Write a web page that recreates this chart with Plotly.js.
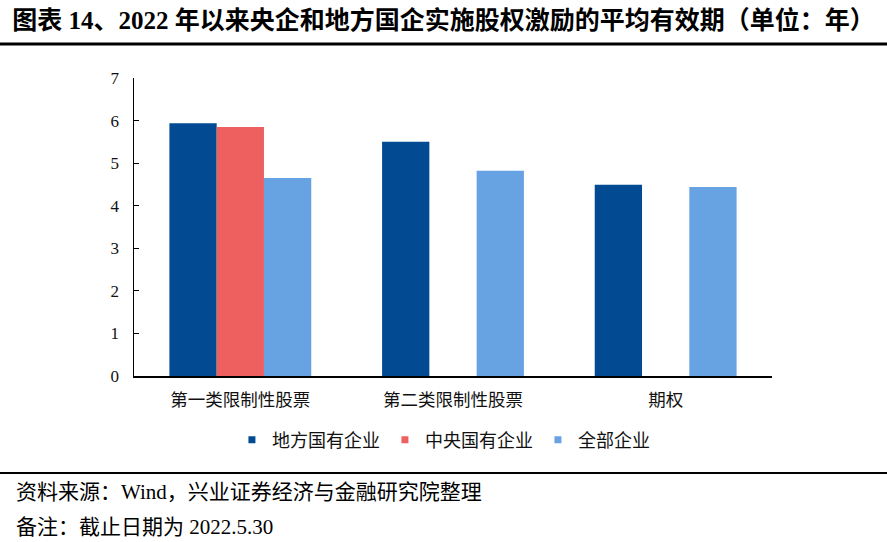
<!DOCTYPE html>
<html>
<head>
<meta charset="utf-8">
<script src="https://cdn.plot.ly/plotly-3.0.1.min.js"></script>
<style>html,body{margin:0;padding:0;background:#fff;}#chart{width:887px;height:542px;}</style>
</head>
<body>
<div id="chart"></div>
<script>
var categories = ['第一类限制性股票', '第二类限制性股票', '期权'];
var seriesNames = ['地方国有企业', '中央国有企业', '全部企业'];
var localSOE = [5.94, 5.50, 4.49];
var centralSOE = [5.85, null, null];
var allFirms = [4.65, 4.82, 4.44];
var yTicks = [0, 1, 2, 3, 4, 5, 6, 7];
var colors = ['#024b93', '#ee6060', '#67a3e3'];

var FONT = 'Liberation Serif, Noto Sans CJK SC, serif';
var values = [localSOE, centralSOE, allFirms];
var traces = [];
values.forEach(function (v, i) {
  traces.push({
    type: 'bar', x: categories, y: v, name: seriesNames[i],
    marker: {color: colors[i], line: {width: 0}}, showlegend: false,
    hoverinfo: 'y'
  });
});
seriesNames.forEach(function (n, i) {
  traces.push({
    type: 'scatter', mode: 'markers', x: [null], y: [null], name: n,
    marker: {symbol: 'square', size: 7, color: colors[i]}, showlegend: true
  });
});

var layout = {
  width: 887, height: 542,
  margin: {l: 134, r: 115, t: 78, b: 166},
  paper_bgcolor: '#fff', plot_bgcolor: '#fff',
  font: {family: FONT, color: '#000', size: 16},
  title: {
    text: '<b>图表 14、2022 年以来央企和地方国企实施股权激励的平均有效期（单位：年）</b>',
    xref: 'container', yref: 'container', x: 0.5, xanchor: 'center',
    y: 1 - 20 / 542, yanchor: 'middle',
    font: {family: FONT, size: 25, color: '#000'}
  },
  barmode: 'group', bargap: 0.333, bargroupgap: 0,
  xaxis: {
    showline: true, linecolor: '#000', linewidth: 2, ticks: '',
    showgrid: false, zeroline: false, ticklabelstandoff: 7,
    tickfont: {family: 'Noto Sans CJK SC, sans-serif', size: 17.5, color: '#111'}
  },
  yaxis: {
    range: [0, 7], tickvals: yTicks, ticks: 'inside', ticklen: 5, tickcolor: '#000',
    showline: true, linecolor: '#000', linewidth: 1.5,
    showgrid: false, zeroline: false, ticklabelstandoff: 10,
    tickfont: {family: 'Liberation Serif, serif', size: 17, color: '#111'}
  },
  showlegend: true,
  legend: {
    orientation: 'h', x: 0.485, xanchor: 'center', y: -0.215, yanchor: 'middle',
    font: {family: 'Noto Sans CJK SC, sans-serif', size: 18, color: '#111'},
    itemwidth: 30, tracegroupgap: 0
  },
  shapes: [
    {type: 'line', xref: 'paper', yref: 'paper', x0: -0.25, x1: 1.25,
     y0: (376 - 44) / 298, y1: (376 - 44) / 298, line: {color: '#000', width: 3}},
    {type: 'line', xref: 'paper', yref: 'paper', x0: -0.25, x1: 1.25,
     y0: (376 - 473) / 298, y1: (376 - 473) / 298, line: {color: '#000', width: 2}}
  ],
  annotations: [
    {xref: 'paper', yref: 'paper', x: (14 - 134) / 638, xanchor: 'left',
     y: (376 - 492) / 298, yanchor: 'middle', showarrow: false,
     text: '资料来源：Wind，兴业证券经济与金融研究院整理',
     font: {family: FONT, size: 21, color: '#000'}},
    {xref: 'paper', yref: 'paper', x: (14 - 134) / 638, xanchor: 'left',
     y: (376 - 527) / 298, yanchor: 'middle', showarrow: false,
     text: '备注：截止日期为 2022.5.30',
     font: {family: FONT, size: 21, color: '#000'}}
  ]
};

Plotly.newPlot('chart', traces, layout, {displayModeBar: false, staticPlot: true});
</script>
</body>
</html>
